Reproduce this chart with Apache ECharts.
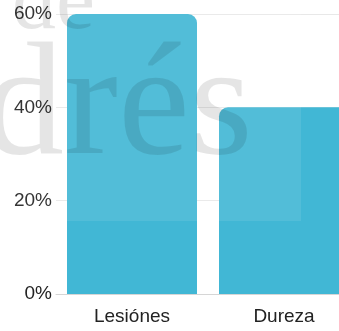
<!DOCTYPE html>
<html>
<head>
<meta charset="utf-8">
<script src="https://cdn.jsdelivr.net/npm/echarts@6/dist/echarts.min.js"></script>
<style>
  html, body { margin: 0; padding: 0; background: #fff; }
  #chart { width: 339px; height: 331px; }
</style>
</head>
<body>
<div id="chart"></div>
<script>
// Share of responses per category (percent)
const categories = ['Lesiónes', 'Dureza'];
const shares = [60, 40];
const yTicks = [0, 20, 40, 60];

const chart = echarts.init(document.getElementById('chart'), null, { renderer: 'canvas' });

const labelFont = { fontFamily: '"Liberation Sans", Arial, sans-serif', fontSize: 19, color: '#222' };

chart.setOption({
  animation: false,
  backgroundColor: '#fff',
  // the plot runs past the right edge of the canvas
  grid: { left: 56, width: 304, top: 14, bottom: 37, containLabel: false, outerBoundsMode: 'none' },
  xAxis: {
    type: 'category',
    data: categories,
    axisLine: { show: true, lineStyle: { color: '#d6d6d6', width: 1 } },
    axisTick: { show: false },
    axisLabel: Object.assign({ margin: 13 }, labelFont)
  },
  yAxis: {
    type: 'value',
    min: yTicks[0],
    max: yTicks[yTicks.length - 1],
    interval: yTicks[1] - yTicks[0],
    axisLine: { show: false },
    axisTick: { show: false },
    splitLine: { lineStyle: { color: '#e8e8e8', width: 1 } },
    axisLabel: Object.assign({ margin: 4, formatter: '{value}%' }, labelFont)
  },
  series: [{
    type: 'bar',
    data: shares,
    barWidth: 130,
    itemStyle: { color: '#41b7d5', borderRadius: [9, 9, 0, 0] }
  }],
  graphic: [
    {
      type: 'rect',
      z: 100,
      silent: true,
      shape: { x: 0, y: 0, width: 301, height: 221 },
      style: { fill: 'rgba(255,255,255,0.09)' }
    },
    {
      type: 'text',
      z: 101,
      silent: true,
      x: -17,
      y: 110,
      style: {
        text: 'drés',
        font: '162px "Liberation Serif", "Times New Roman", serif',
        fill: 'rgba(0,0,0,0.1)',
        verticalAlign: 'middle',
        align: 'left'
      }
    },
    {
      type: 'text',
      z: 101,
      silent: true,
      x: 12,
      y: 5,
      style: {
        text: 'de',
        font: '88px "Liberation Serif", "Times New Roman", serif',
        fill: 'rgba(0,0,0,0.1)',
        verticalAlign: 'middle',
        align: 'left'
      }
    }
  ]
});
</script>
</body>
</html>
